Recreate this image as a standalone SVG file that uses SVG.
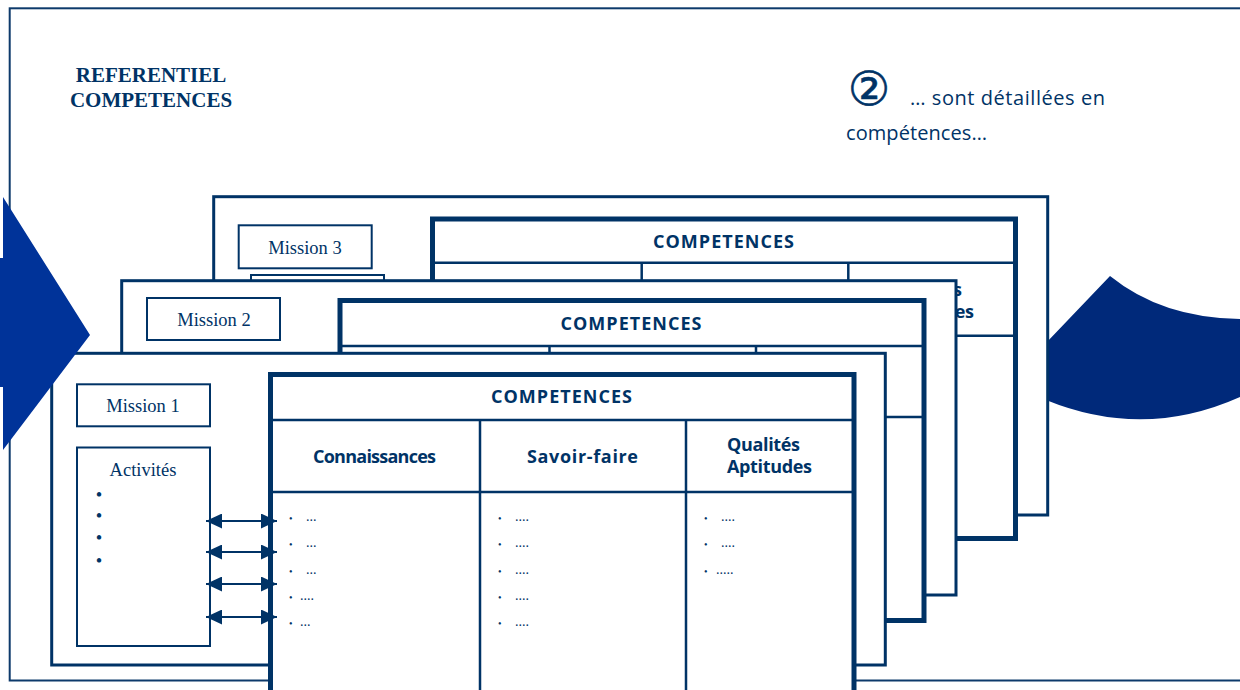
<svg xmlns="http://www.w3.org/2000/svg" width="1240" height="690" viewBox="0 0 1240 690">
<defs>
<style>
.card{fill:#fff;stroke:#003366;stroke-width:3}
.tbl{fill:#fff;stroke:#003366;stroke-width:5}
.sep{stroke:#003366;stroke-width:2.5;fill:none}
.box{fill:#fff;stroke:#003366;stroke-width:2}
.cs{font-family:"Open Sans","DejaVu Sans",sans-serif;font-weight:bold;font-size:18px;fill:#003366;text-anchor:middle}
.tm{font-family:"Liberation Serif",serif;font-size:18.5px;fill:#003366;text-anchor:middle}
.li{font-family:"Liberation Serif",serif;font-size:14px;fill:#003366}
.bl{font-size:10px}
.hd{font-family:"Liberation Serif",serif;font-weight:bold;font-size:21px;fill:#003366;text-anchor:middle}
.cm{font-family:"Open Sans","DejaVu Sans",sans-serif;font-size:20px;fill:#003366}
.conn{stroke:#003366;stroke-width:2;fill:none;marker-start:url(#ah);marker-end:url(#ah)}
</style>
<marker id="ah" viewBox="0 0 16 15" refX="16" refY="7.5" markerWidth="16" markerHeight="15" markerUnits="userSpaceOnUse" orient="auto-start-reverse">
<path d="M0,0 L16,7.5 L0,15 Z" fill="#003366"/>
</marker>
</defs>
<rect width="1240" height="690" fill="#fff"/>
<rect x="9.7" y="8.3" width="1240" height="672.2" fill="none" stroke="#0d3a6b" stroke-width="2"/>

<g id="title">
<text class="hd" x="151" y="82">REFERENTIEL</text>
<text class="hd" x="151" y="107">COMPETENCES</text>
</g>
<g id="note">
<text x="869" y="104.5" font-family="DejaVu Sans,sans-serif" font-size="47" fill="#003366" stroke="#003366" stroke-width="0.6" text-anchor="middle">②</text>
<text class="cm" x="910" y="105" textLength="195">… sont détaillées en</text>
<text class="cm" x="846" y="140" textLength="141">compétences…</text>
</g>

<g id="right-arrow">
<path d="M1110,276 Q1162,318 1240,319 L1240,397 Q1144,440 1046,400 L1046,343 Z" fill="#00297a"/>
</g>

<g id="mission3">
<rect class="card" x="213.7" y="196.7" width="834" height="318.3"/>
<rect class="box" x="238.7" y="225.3" width="133" height="43"/>
<text class="tm" x="305" y="254">Mission 3</text>
<rect class="box" x="251" y="275" width="133" height="200" stroke-width="1.5"/>
<g id="competences3">
<rect class="tbl" x="432.5" y="219" width="583" height="319.5"/>
<line class="sep" x1="432.5" y1="262.7" x2="1015.5" y2="262.7"/>
<line class="sep" x1="432.5" y1="335.7" x2="1015.5" y2="335.7"/>
<line class="sep" x1="641.7" y1="262.7" x2="641.7" y2="538.5"/>
<line class="sep" x1="848.3" y1="262.7" x2="848.3" y2="538.5"/>
<text class="cs" x="723.5" y="247.5" textLength="141">COMPETENCES</text>
<text class="cs" x="925.5" y="295.5" textLength="73">Qualités</text>
<text class="cs" x="931.5" y="317.5" textLength="85">Aptitudes</text>
</g>
</g>

<g id="mission2">
<rect class="card" x="121.7" y="280.7" width="834.3" height="314.3"/>
<rect class="box" x="147" y="298" width="133" height="42"/>
<text class="tm" x="214" y="326">Mission 2</text>
<g id="competences2">
<rect class="tbl" x="340" y="300.5" width="584" height="320"/>
<line class="sep" x1="340" y1="346" x2="924" y2="346"/>
<line class="sep" x1="340" y1="417" x2="924" y2="417"/>
<line class="sep" x1="549.5" y1="346" x2="549.5" y2="620.5"/>
<line class="sep" x1="756" y1="346" x2="756" y2="620.5"/>
<text class="cs" x="631" y="329.5" textLength="141">COMPETENCES</text>
</g>
</g>

<g id="mission1">
<rect class="card" x="51.7" y="353.3" width="833.6" height="311.7"/>
<rect class="box" x="77" y="384.3" width="133" height="42"/>
<text class="tm" x="143" y="412">Mission 1</text>
<g id="activites1">
<rect class="box" x="77" y="447.5" width="133" height="198.5"/>
<text class="tm" x="143" y="476">Activités</text>
<text class="tm" x="99" y="500.5" font-size="9">•</text>
<text class="tm" x="99" y="521.5" font-size="9">•</text>
<text class="tm" x="99" y="543.5" font-size="9">•</text>
<text class="tm" x="99" y="566.5" font-size="9">•</text>
</g>
<g id="competences1">
<rect class="tbl" x="270.5" y="374.5" width="583.5" height="330"/>
<line class="sep" x1="270.5" y1="420" x2="854" y2="420"/>
<line class="sep" x1="270.5" y1="492" x2="854" y2="492"/>
<line class="sep" x1="480" y1="420" x2="480" y2="700"/>
<line class="sep" x1="686" y1="420" x2="686" y2="700"/>
<text class="cs" x="561.5" y="403" textLength="141">COMPETENCES</text>
<text class="cs" x="374.5" y="463" textLength="123">Connaissances</text>
<text class="cs" x="582.5" y="463" textLength="111">Savoir-faire</text>
<text class="cs" x="763.5" y="451" textLength="73">Qualités</text>
<text class="cs" x="769.5" y="473" textLength="85">Aptitudes</text>
<g id="list-connaissances">
<text class="li" x="289" y="522"><tspan class="bl">•</tspan><tspan x="306" y="521">...</tspan></text>
<text class="li" x="289" y="548"><tspan class="bl">•</tspan><tspan x="306" y="547">...</tspan></text>
<text class="li" x="289" y="575"><tspan class="bl">•</tspan><tspan x="306" y="574">...</tspan></text>
<text class="li" x="289" y="601"><tspan class="bl">•</tspan><tspan x="300" y="600">....</tspan></text>
<text class="li" x="289" y="627"><tspan class="bl">•</tspan><tspan x="300" y="626">...</tspan></text>
</g>
<g id="list-savoir-faire">
<text class="li" x="498" y="522"><tspan class="bl">•</tspan><tspan x="515" y="521">....</tspan></text>
<text class="li" x="498" y="548"><tspan class="bl">•</tspan><tspan x="515" y="547">....</tspan></text>
<text class="li" x="498" y="575"><tspan class="bl">•</tspan><tspan x="515" y="574">....</tspan></text>
<text class="li" x="498" y="601"><tspan class="bl">•</tspan><tspan x="515" y="600">....</tspan></text>
<text class="li" x="498" y="627"><tspan class="bl">•</tspan><tspan x="515" y="626">....</tspan></text>
</g>
<g id="list-qualites">
<text class="li" x="704" y="522"><tspan class="bl">•</tspan><tspan x="721" y="521">....</tspan></text>
<text class="li" x="704" y="548"><tspan class="bl">•</tspan><tspan x="721" y="547">....</tspan></text>
<text class="li" x="704" y="575"><tspan class="bl">•</tspan><tspan x="716" y="574">.....</tspan></text>
</g>
</g>
</g>

<g id="connectors">
<line class="conn" x1="206" y1="521" x2="277" y2="521"/>
<line class="conn" x1="206" y1="552" x2="277" y2="552"/>
<line class="conn" x1="206" y1="584" x2="277" y2="584"/>
<line class="conn" x1="206" y1="617" x2="277" y2="617"/>
</g>

<g id="left-arrow">
<polygon points="-10,258 3,258 3,197 90,335 3,450 3,387 -10,387" fill="#003399"/>
</g>
</svg>
